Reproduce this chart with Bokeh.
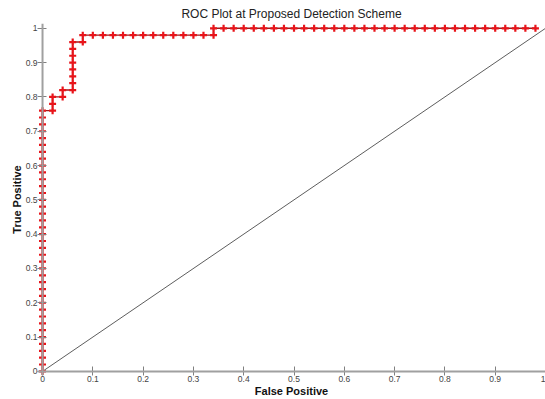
from bokeh.plotting import figure
from bokeh.models import FixedTicker, Range1d, Title, Span
from bokeh.embed import file_html
from bokeh.resources import INLINE

# ROC curve points (False Positive Rate, True Positive Rate)
fpr = [0.0] * 39 + [
    0.02, 0.02, 0.02,
    0.04, 0.04,
    0.06, 0.06, 0.06, 0.06, 0.06, 0.06, 0.06, 0.06,
    0.08, 0.08,
    0.10, 0.12, 0.14, 0.16, 0.18, 0.20, 0.22, 0.24, 0.26, 0.28, 0.30, 0.32, 0.34,
    0.34, 0.36, 0.38, 0.40, 0.42, 0.44, 0.46, 0.48, 0.50, 0.52, 0.54, 0.56, 0.58,
    0.60, 0.62, 0.64, 0.66, 0.68, 0.70, 0.72, 0.74, 0.76, 0.78, 0.80, 0.82, 0.84,
    0.86, 0.88, 0.90, 0.92, 0.94, 0.96, 0.98, 1.00,
]
tpr = [
    0.00, 0.02, 0.04, 0.06, 0.08, 0.10, 0.12, 0.14, 0.16, 0.18, 0.20, 0.22, 0.24,
    0.26, 0.28, 0.30, 0.32, 0.34, 0.36, 0.38, 0.40, 0.42, 0.44, 0.46, 0.48, 0.50,
    0.52, 0.54, 0.56, 0.58, 0.60, 0.62, 0.64, 0.66, 0.68, 0.70, 0.72, 0.74, 0.76,
    0.76, 0.78, 0.80,
    0.80, 0.82,
    0.82, 0.84, 0.86, 0.88, 0.90, 0.92, 0.94, 0.96,
    0.96, 0.98,
    0.98, 0.98, 0.98, 0.98, 0.98, 0.98, 0.98, 0.98, 0.98, 0.98, 0.98, 0.98, 0.98,
    1.0, 1.0, 1.0, 1.0, 1.0, 1.0, 1.0, 1.0, 1.0, 1.0, 1.0, 1.0, 1.0,
    1.0, 1.0, 1.0, 1.0, 1.0, 1.0, 1.0, 1.0, 1.0, 1.0, 1.0, 1.0, 1.0,
    1.0, 1.0, 1.0, 1.0, 1.0, 1.0, 1.0,
]

# chance diagonal
diag_x = [0.0, 1.0]
diag_y = [0.0, 1.0]

tick_values = [0.0, 0.1, 0.2, 0.3, 0.4, 0.5, 0.6, 0.7, 0.8, 0.9, 1.0]
tick_labels = ["0", "0.1", "0.2", "0.3", "0.4", "0.5", "0.6", "0.7", "0.8", "0.9", "1"]

title_text = "ROC Plot at Proposed Detection Scheme"
x_label = "False Positive"
y_label = "True Positive"

p = figure(width=545, height=399, output_backend="svg", toolbar_location=None,
           x_range=Range1d(-0.01, 1.0), y_range=Range1d(-0.012, 1.014),
           min_border_left=37, min_border_right=0, min_border_top=23,
           min_border_bottom=21)
p.outline_line_color = None
p.background_fill_color = "white"
p.border_fill_color = "white"
p.xgrid.visible = False
p.ygrid.visible = False

t = Title(text=title_text, align="center", text_font="Liberation Sans",
          text_font_size="12px", text_font_style="normal", text_color="#222222",
          standoff=1, offset=0, vertical_align="top")
p.add_layout(t, "above")

# axis lines at the data origin
p.add_layout(Span(location=0, dimension="height", line_color="#a0a0a0", line_width=2))
p.add_layout(Span(location=0, dimension="width", line_color="#a0a0a0", line_width=2))

p.line(diag_x, diag_y, line_color="#333333", line_width=0.8)
p.line(fpr, tpr, line_color="#a01818", line_width=1.4)
p.scatter(fpr, tpr, marker="cross", size=7, line_color="#e8141a", line_width=2.2)

for ax in (p.xaxis[0], p.yaxis[0]):
    ax.ticker = FixedTicker(ticks=tick_values)
    ax.major_label_overrides = {v: s for v, s in zip(tick_values, tick_labels)}
    ax.axis_line_color = None
    ax.major_tick_line_color = "#808080"
    ax.major_tick_in = 9
    ax.major_tick_out = 0
    ax.minor_tick_line_color = None
    ax.major_label_text_font = "Liberation Sans"
    ax.major_label_text_font_size = "8.5px"
    ax.major_label_text_color = "#444444"
    ax.major_label_standoff = 0
    ax.axis_label_text_font = "Liberation Sans"
    ax.axis_label_text_font_size = "11px"
    ax.axis_label_text_font_style = "bold"
    ax.axis_label_text_color = "#111111"
    ax.axis_label_standoff = 0

p.xaxis.axis_label = x_label
p.yaxis.axis_label = y_label

open("out.html", "w").write(file_html(p, INLINE))
